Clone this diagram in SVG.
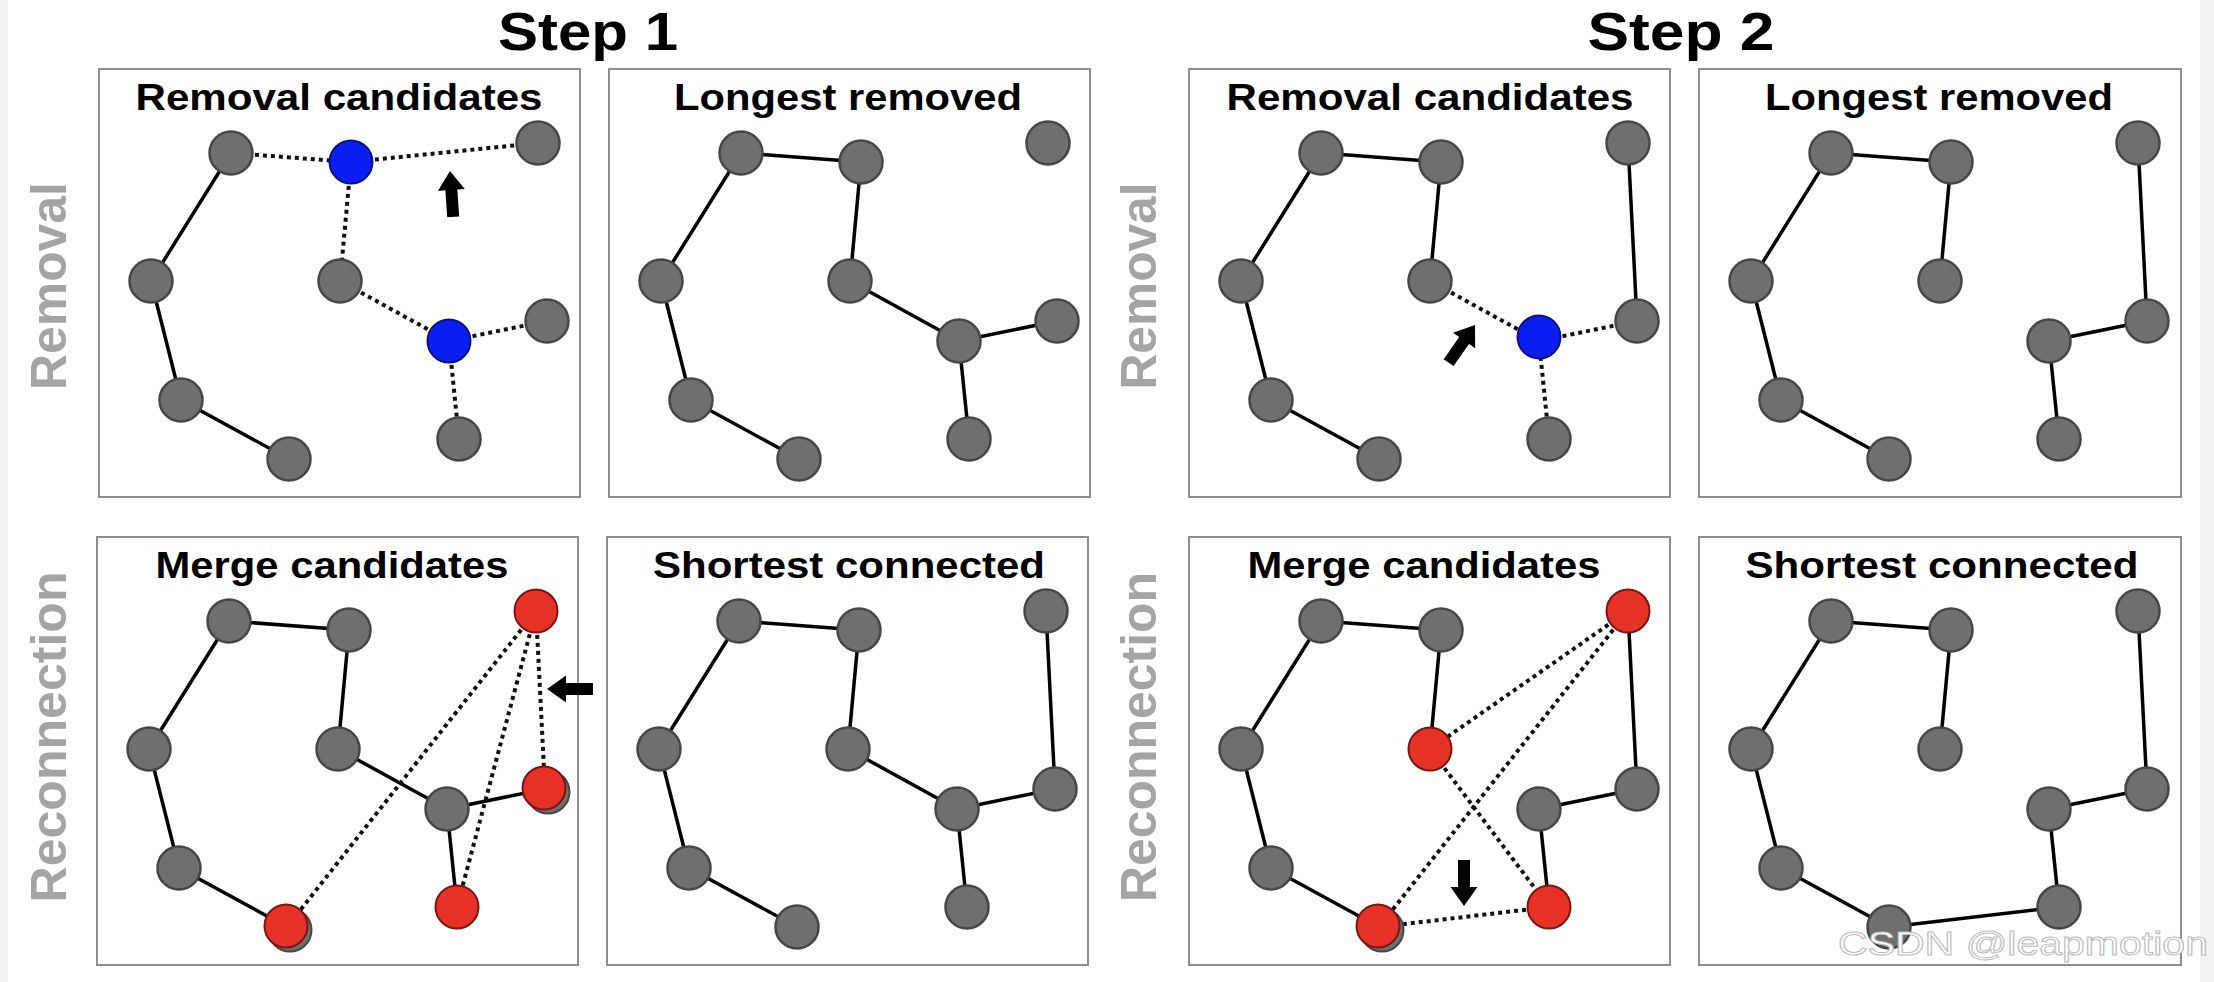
<svg xmlns="http://www.w3.org/2000/svg" xmlns:xlink="http://www.w3.org/1999/xlink" width="2214" height="982" viewBox="0 0 2214 982">
  <style>
    .frame { fill: #ffffff; stroke: #8e8e8e; stroke-width: 2; }
    .txt { font-family: "Liberation Sans", Arial, Helvetica, sans-serif; font-weight: bold; }
    .step { font-size: 53px; fill: #000000; text-anchor: middle; }
    .title { font-size: 37px; fill: #000000; text-anchor: middle; }
    .row { font-size: 50px; fill: #a4a4a4; text-anchor: middle; }
    .edge { stroke: #000000; stroke-width: 3.5; stroke-linecap: round; fill: none; }
    .cand { stroke: #111111; stroke-width: 4; stroke-dasharray: 4 4; fill: none; }
    .gray { fill: #6f6f6f; stroke: #474747; stroke-width: 2.5; }
    .blue { fill: #0a1ef2; stroke: #0a1280; stroke-width: 2; }
    .red { fill: #e63127; stroke: #7a1712; stroke-width: 2; }
    .ghost { fill: #6f6f6f; stroke: #474747; stroke-width: 2; }
    .ptr { fill: #000000; }
    .mark { font-family: "Liberation Sans", Arial, sans-serif; font-size: 33px; fill: #ffffff; stroke: #bcbcbc; stroke-width: 1; }
  </style>
  <defs>
    <!-- block arrow, tip at origin, pointing up -->
    <path id="arrow" class="ptr" d="M0,0 L13.5,19 L6,19 L6,46 L-6,46 L-6,19 L-13.5,19 Z"/>
  </defs>

  <rect x="0" y="0" width="2214" height="982" fill="#ffffff"/>
  <rect x="0" y="0" width="8" height="982" fill="#f3f3f3"/>
  <rect x="2200" y="0" width="14" height="982" fill="#f3f3f3"/>

  <!-- column headings -->
  <text class="txt step" x="588" y="50" textLength="180" lengthAdjust="spacingAndGlyphs">Step 1</text>
  <text class="txt step" x="1681" y="50" textLength="187" lengthAdjust="spacingAndGlyphs">Step 2</text>

  <!-- row labels -->
  <text class="txt row" transform="translate(66,286) rotate(-90)" textLength="208" lengthAdjust="spacingAndGlyphs">Removal</text>
  <text class="txt row" transform="translate(66,737) rotate(-90)" textLength="331" lengthAdjust="spacingAndGlyphs">Reconnection</text>
  <text class="txt row" transform="translate(1156,286) rotate(-90)" textLength="207" lengthAdjust="spacingAndGlyphs">Removal</text>
  <text class="txt row" transform="translate(1156,737) rotate(-90)" textLength="330" lengthAdjust="spacingAndGlyphs">Reconnection</text>

  <!-- ===== Step 1 / Removal candidates ===== -->
  <g id="panel-s1-removal" transform="translate(99,69)">
    <rect class="frame" x="0" y="0" width="481" height="428"/>
    <text class="txt title" x="240" y="41" textLength="407" lengthAdjust="spacingAndGlyphs">Removal candidates</text>
    <g id="s1r-connectors">
      <line class="edge" x1="132" y1="84" x2="52" y2="212"/>
      <line class="edge" x1="52" y1="212" x2="82" y2="331"/>
      <line class="edge" x1="82" y1="331" x2="190" y2="390"/>
      <line class="cand" x1="132" y1="84" x2="252" y2="93"/>
      <line class="cand" x1="252" y1="93" x2="439" y2="74"/>
      <line class="cand" x1="252" y1="93" x2="241" y2="212"/>
      <line class="cand" x1="241" y1="212" x2="350" y2="272"/>
      <line class="cand" x1="350" y1="272" x2="448" y2="252"/>
      <line class="cand" x1="350" y1="272" x2="360" y2="370"/>
    </g>
    <g id="s1r-n1"><circle class="gray" cx="132" cy="84" r="21.5"/></g>
    <g id="s1r-n2"><circle class="blue" cx="252" cy="93" r="21.5"/></g>
    <g id="s1r-n3"><circle class="gray" cx="439" cy="74" r="21.5"/></g>
    <g id="s1r-n4"><circle class="gray" cx="52" cy="212" r="21.5"/></g>
    <g id="s1r-n5"><circle class="gray" cx="241" cy="212" r="21.5"/></g>
    <g id="s1r-n6"><circle class="gray" cx="448" cy="252" r="21.5"/></g>
    <g id="s1r-n7"><circle class="blue" cx="350" cy="272" r="21.5"/></g>
    <g id="s1r-n8"><circle class="gray" cx="82" cy="331" r="21.5"/></g>
    <g id="s1r-n9"><circle class="gray" cx="190" cy="390" r="21.5"/></g>
    <g id="s1r-n10"><circle class="gray" cx="360" cy="370" r="21.5"/></g>
    <use xlink:href="#arrow" href="#arrow" transform="translate(351,102) rotate(-4)"/>
  </g>

  <!-- ===== Step 1 / Longest removed ===== -->
  <g id="panel-s1-removed" transform="translate(609,69)">
    <rect class="frame" x="0" y="0" width="481" height="428"/>
    <text class="txt title" x="239" y="41" textLength="348" lengthAdjust="spacingAndGlyphs">Longest removed</text>
    <g id="s1l-connectors">
      <line class="edge" x1="132" y1="84" x2="252" y2="93"/>
      <line class="edge" x1="252" y1="93" x2="241" y2="212"/>
      <line class="edge" x1="241" y1="212" x2="350" y2="272"/>
      <line class="edge" x1="350" y1="272" x2="448" y2="252"/>
      <line class="edge" x1="350" y1="272" x2="360" y2="370"/>
      <line class="edge" x1="132" y1="84" x2="52" y2="212"/>
      <line class="edge" x1="52" y1="212" x2="82" y2="331"/>
      <line class="edge" x1="82" y1="331" x2="190" y2="390"/>
    </g>
    <g id="s1l-n1"><circle class="gray" cx="132" cy="84" r="21.5"/></g>
    <g id="s1l-n2"><circle class="gray" cx="252" cy="93" r="21.5"/></g>
    <g id="s1l-n3"><circle class="gray" cx="439" cy="74" r="21.5"/></g>
    <g id="s1l-n4"><circle class="gray" cx="52" cy="212" r="21.5"/></g>
    <g id="s1l-n5"><circle class="gray" cx="241" cy="212" r="21.5"/></g>
    <g id="s1l-n6"><circle class="gray" cx="448" cy="252" r="21.5"/></g>
    <g id="s1l-n7"><circle class="gray" cx="350" cy="272" r="21.5"/></g>
    <g id="s1l-n8"><circle class="gray" cx="82" cy="331" r="21.5"/></g>
    <g id="s1l-n9"><circle class="gray" cx="190" cy="390" r="21.5"/></g>
    <g id="s1l-n10"><circle class="gray" cx="360" cy="370" r="21.5"/></g>
  </g>

  <!-- ===== Step 2 / Removal candidates ===== -->
  <g id="panel-s2-removal" transform="translate(1189,69)">
    <rect class="frame" x="0" y="0" width="481" height="428"/>
    <text class="txt title" x="241" y="41" textLength="407" lengthAdjust="spacingAndGlyphs">Removal candidates</text>
    <g id="s2r-connectors">
      <line class="edge" x1="132" y1="84" x2="252" y2="93"/>
      <line class="edge" x1="252" y1="93" x2="241" y2="212"/>
      <line class="edge" x1="132" y1="84" x2="52" y2="212"/>
      <line class="edge" x1="52" y1="212" x2="82" y2="331"/>
      <line class="edge" x1="82" y1="331" x2="190" y2="390"/>
      <line class="edge" x1="439" y1="74" x2="448" y2="252"/>
      <line class="cand" x1="241" y1="212" x2="350" y2="272"/>
      <line class="cand" x1="350" y1="272" x2="448" y2="252"/>
      <line class="cand" x1="350" y1="272" x2="360" y2="370"/>
    </g>
    <g id="s2r-n1"><circle class="gray" cx="132" cy="84" r="21.5"/></g>
    <g id="s2r-n2"><circle class="gray" cx="252" cy="93" r="21.5"/></g>
    <g id="s2r-n3"><circle class="gray" cx="439" cy="74" r="21.5"/></g>
    <g id="s2r-n4"><circle class="gray" cx="52" cy="212" r="21.5"/></g>
    <g id="s2r-n5"><circle class="gray" cx="241" cy="212" r="21.5"/></g>
    <g id="s2r-n6"><circle class="gray" cx="448" cy="252" r="21.5"/></g>
    <g id="s2r-n7"><circle class="blue" cx="350" cy="268" r="21.5"/></g>
    <g id="s2r-n8"><circle class="gray" cx="82" cy="331" r="21.5"/></g>
    <g id="s2r-n9"><circle class="gray" cx="190" cy="390" r="21.5"/></g>
    <g id="s2r-n10"><circle class="gray" cx="360" cy="370" r="21.5"/></g>
    <use xlink:href="#arrow" href="#arrow" transform="translate(286,256) rotate(35)"/>
  </g>

  <!-- ===== Step 2 / Longest removed ===== -->
  <g id="panel-s2-removed" transform="translate(1699,69)">
    <rect class="frame" x="0" y="0" width="482" height="428"/>
    <text class="txt title" x="240" y="41" textLength="348" lengthAdjust="spacingAndGlyphs">Longest removed</text>
    <g id="s2l-connectors">
      <line class="edge" x1="132" y1="84" x2="252" y2="93"/>
      <line class="edge" x1="252" y1="93" x2="241" y2="212"/>
      <line class="edge" x1="132" y1="84" x2="52" y2="212"/>
      <line class="edge" x1="52" y1="212" x2="82" y2="331"/>
      <line class="edge" x1="82" y1="331" x2="190" y2="390"/>
      <line class="edge" x1="439" y1="74" x2="448" y2="252"/>
      <line class="edge" x1="448" y1="252" x2="350" y2="272"/>
      <line class="edge" x1="350" y1="272" x2="360" y2="370"/>
    </g>
    <g id="s2l-n1"><circle class="gray" cx="132" cy="84" r="21.5"/></g>
    <g id="s2l-n2"><circle class="gray" cx="252" cy="93" r="21.5"/></g>
    <g id="s2l-n3"><circle class="gray" cx="439" cy="74" r="21.5"/></g>
    <g id="s2l-n4"><circle class="gray" cx="52" cy="212" r="21.5"/></g>
    <g id="s2l-n5"><circle class="gray" cx="241" cy="212" r="21.5"/></g>
    <g id="s2l-n6"><circle class="gray" cx="448" cy="252" r="21.5"/></g>
    <g id="s2l-n7"><circle class="gray" cx="350" cy="272" r="21.5"/></g>
    <g id="s2l-n8"><circle class="gray" cx="82" cy="331" r="21.5"/></g>
    <g id="s2l-n9"><circle class="gray" cx="190" cy="390" r="21.5"/></g>
    <g id="s2l-n10"><circle class="gray" cx="360" cy="370" r="21.5"/></g>
  </g>

  <!-- ===== Step 1 / Merge candidates ===== -->
  <g id="panel-s1-merge" transform="translate(97,537)">
    <rect class="frame" x="0" y="0" width="481" height="428"/>
    <text class="txt title" x="235" y="41" textLength="353" lengthAdjust="spacingAndGlyphs">Merge candidates</text>
    <g id="s1m-connectors">
      <line class="edge" x1="132" y1="84" x2="252" y2="93"/>
      <line class="edge" x1="252" y1="93" x2="241" y2="212"/>
      <line class="edge" x1="241" y1="212" x2="350" y2="272"/>
      <line class="edge" x1="350" y1="272" x2="448" y2="252"/>
      <line class="edge" x1="350" y1="272" x2="360" y2="370"/>
      <line class="edge" x1="132" y1="84" x2="52" y2="212"/>
      <line class="edge" x1="52" y1="212" x2="82" y2="331"/>
      <line class="edge" x1="82" y1="331" x2="190" y2="390"/>
      <line class="cand" x1="439" y1="74" x2="190" y2="390"/>
      <line class="cand" x1="439" y1="74" x2="360" y2="370"/>
      <line class="cand" x1="439" y1="74" x2="448" y2="252"/>
    </g>
    <g id="s1m-n1"><circle class="gray" cx="132" cy="84" r="21.5"/></g>
    <g id="s1m-n2"><circle class="gray" cx="252" cy="93" r="21.5"/></g>
    <g id="s1m-n3"><circle class="red" cx="439" cy="74" r="21.5"/></g>
    <g id="s1m-n4"><circle class="gray" cx="52" cy="212" r="21.5"/></g>
    <g id="s1m-n5"><circle class="gray" cx="241" cy="212" r="21.5"/></g>
    <g id="s1m-n6"><circle class="ghost" cx="451" cy="255" r="21.5"/><circle class="red" cx="447" cy="251" r="21.5"/></g>
    <g id="s1m-n7"><circle class="gray" cx="350" cy="272" r="21.5"/></g>
    <g id="s1m-n8"><circle class="gray" cx="82" cy="331" r="21.5"/></g>
    <g id="s1m-n9"><circle class="ghost" cx="193" cy="393" r="21.5"/><circle class="red" cx="189" cy="389" r="21.5"/></g>
    <g id="s1m-n10"><circle class="red" cx="360" cy="370" r="21.5"/></g>
    <use xlink:href="#arrow" href="#arrow" transform="translate(450,152) rotate(-90)"/>
  </g>

  <!-- ===== Step 1 / Shortest connected ===== -->
  <g id="panel-s1-connected" transform="translate(607,537)">
    <rect class="frame" x="0" y="0" width="481" height="428"/>
    <text class="txt title" x="242" y="41" textLength="392" lengthAdjust="spacingAndGlyphs">Shortest connected</text>
    <g id="s1c-connectors">
      <line class="edge" x1="132" y1="84" x2="252" y2="93"/>
      <line class="edge" x1="252" y1="93" x2="241" y2="212"/>
      <line class="edge" x1="241" y1="212" x2="350" y2="272"/>
      <line class="edge" x1="350" y1="272" x2="448" y2="252"/>
      <line class="edge" x1="350" y1="272" x2="360" y2="370"/>
      <line class="edge" x1="132" y1="84" x2="52" y2="212"/>
      <line class="edge" x1="52" y1="212" x2="82" y2="331"/>
      <line class="edge" x1="82" y1="331" x2="190" y2="390"/>
      <line class="edge" x1="439" y1="74" x2="448" y2="252"/>
    </g>
    <g id="s1c-n1"><circle class="gray" cx="132" cy="84" r="21.5"/></g>
    <g id="s1c-n2"><circle class="gray" cx="252" cy="93" r="21.5"/></g>
    <g id="s1c-n3"><circle class="gray" cx="439" cy="74" r="21.5"/></g>
    <g id="s1c-n4"><circle class="gray" cx="52" cy="212" r="21.5"/></g>
    <g id="s1c-n5"><circle class="gray" cx="241" cy="212" r="21.5"/></g>
    <g id="s1c-n6"><circle class="gray" cx="448" cy="252" r="21.5"/></g>
    <g id="s1c-n7"><circle class="gray" cx="350" cy="272" r="21.5"/></g>
    <g id="s1c-n8"><circle class="gray" cx="82" cy="331" r="21.5"/></g>
    <g id="s1c-n9"><circle class="gray" cx="190" cy="390" r="21.5"/></g>
    <g id="s1c-n10"><circle class="gray" cx="360" cy="370" r="21.5"/></g>
  </g>

  <!-- ===== Step 2 / Merge candidates ===== -->
  <g id="panel-s2-merge" transform="translate(1189,537)">
    <rect class="frame" x="0" y="0" width="481" height="428"/>
    <text class="txt title" x="235" y="41" textLength="353" lengthAdjust="spacingAndGlyphs">Merge candidates</text>
    <g id="s2m-connectors">
      <line class="edge" x1="132" y1="84" x2="252" y2="93"/>
      <line class="edge" x1="252" y1="93" x2="241" y2="212"/>
      <line class="edge" x1="132" y1="84" x2="52" y2="212"/>
      <line class="edge" x1="52" y1="212" x2="82" y2="331"/>
      <line class="edge" x1="82" y1="331" x2="190" y2="390"/>
      <line class="edge" x1="439" y1="74" x2="448" y2="252"/>
      <line class="edge" x1="448" y1="252" x2="350" y2="272"/>
      <line class="edge" x1="350" y1="272" x2="360" y2="370"/>
      <line class="cand" x1="439" y1="74" x2="241" y2="212"/>
      <line class="cand" x1="439" y1="74" x2="190" y2="390"/>
      <line class="cand" x1="241" y1="212" x2="360" y2="370"/>
      <line class="cand" x1="190" y1="390" x2="360" y2="370"/>
    </g>
    <g id="s2m-n1"><circle class="gray" cx="132" cy="84" r="21.5"/></g>
    <g id="s2m-n2"><circle class="gray" cx="252" cy="93" r="21.5"/></g>
    <g id="s2m-n3"><circle class="red" cx="439" cy="74" r="21.5"/></g>
    <g id="s2m-n4"><circle class="gray" cx="52" cy="212" r="21.5"/></g>
    <g id="s2m-n5"><circle class="red" cx="241" cy="212" r="21.5"/></g>
    <g id="s2m-n6"><circle class="gray" cx="448" cy="252" r="21.5"/></g>
    <g id="s2m-n7"><circle class="gray" cx="350" cy="272" r="21.5"/></g>
    <g id="s2m-n8"><circle class="gray" cx="82" cy="331" r="21.5"/></g>
    <g id="s2m-n9"><circle class="ghost" cx="193" cy="393" r="21.5"/><circle class="red" cx="189" cy="389" r="21.5"/></g>
    <g id="s2m-n10"><circle class="red" cx="360" cy="370" r="21.5"/></g>
    <use xlink:href="#arrow" href="#arrow" transform="translate(275,369) rotate(180)"/>
  </g>

  <!-- ===== Step 2 / Shortest connected ===== -->
  <g id="panel-s2-connected" transform="translate(1699,537)">
    <rect class="frame" x="0" y="0" width="482" height="428"/>
    <text class="txt title" x="243" y="41" textLength="393" lengthAdjust="spacingAndGlyphs">Shortest connected</text>
    <g id="s2c-connectors">
      <line class="edge" x1="132" y1="84" x2="252" y2="93"/>
      <line class="edge" x1="252" y1="93" x2="241" y2="212"/>
      <line class="edge" x1="132" y1="84" x2="52" y2="212"/>
      <line class="edge" x1="52" y1="212" x2="82" y2="331"/>
      <line class="edge" x1="82" y1="331" x2="190" y2="390"/>
      <line class="edge" x1="439" y1="74" x2="448" y2="252"/>
      <line class="edge" x1="448" y1="252" x2="350" y2="272"/>
      <line class="edge" x1="350" y1="272" x2="360" y2="370"/>
      <line class="edge" x1="190" y1="390" x2="360" y2="370"/>
    </g>
    <g id="s2c-n1"><circle class="gray" cx="132" cy="84" r="21.5"/></g>
    <g id="s2c-n2"><circle class="gray" cx="252" cy="93" r="21.5"/></g>
    <g id="s2c-n3"><circle class="gray" cx="439" cy="74" r="21.5"/></g>
    <g id="s2c-n4"><circle class="gray" cx="52" cy="212" r="21.5"/></g>
    <g id="s2c-n5"><circle class="gray" cx="241" cy="212" r="21.5"/></g>
    <g id="s2c-n6"><circle class="gray" cx="448" cy="252" r="21.5"/></g>
    <g id="s2c-n7"><circle class="gray" cx="350" cy="272" r="21.5"/></g>
    <g id="s2c-n8"><circle class="gray" cx="82" cy="331" r="21.5"/></g>
    <g id="s2c-n9"><circle class="gray" cx="190" cy="390" r="21.5"/></g>
    <g id="s2c-n10"><circle class="gray" cx="360" cy="370" r="21.5"/></g>
  </g>

  <!-- watermark -->
  <text class="mark" x="1838" y="955" textLength="370" lengthAdjust="spacingAndGlyphs">CSDN @leapmotion</text>
</svg>
